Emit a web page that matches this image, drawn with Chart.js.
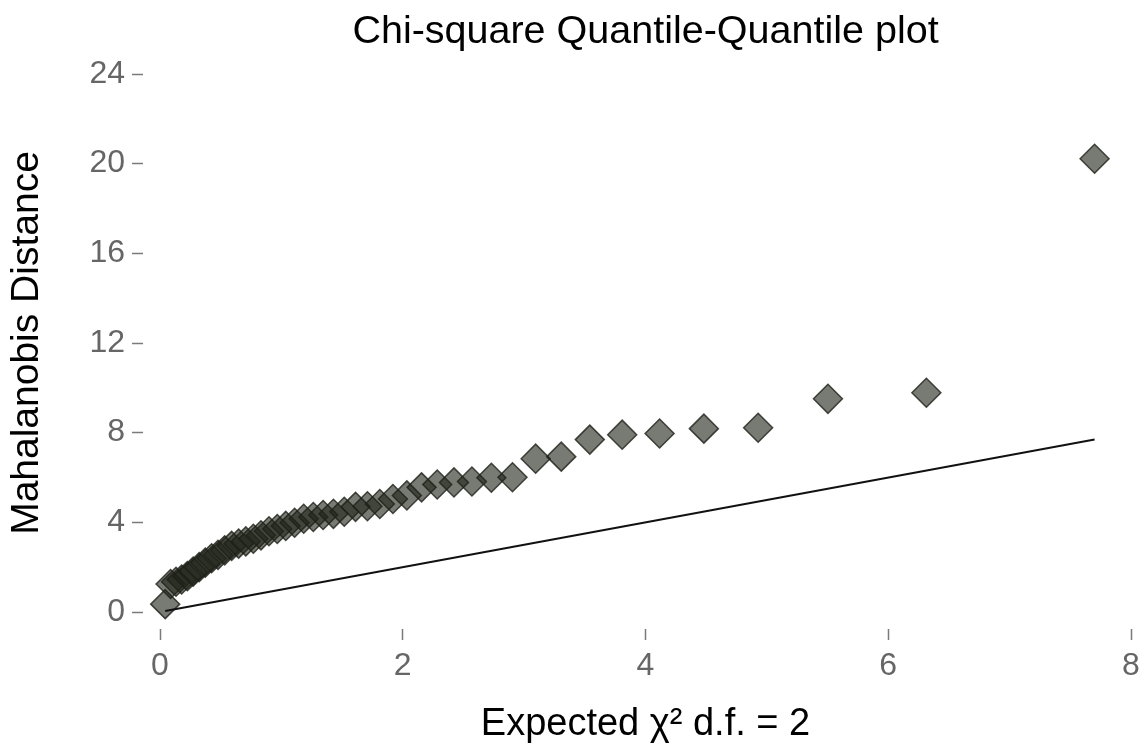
<!DOCTYPE html>
<html lang="en">
<head>
<meta charset="UTF-8">
<title>Chi-square Quantile-Quantile plot</title>
<script src="https://cdn.jsdelivr.net/npm/chart.js"></script>
<style>
  body { margin: 0; background: #fff; }
  #wrap { width: 1147px; height: 746px; }
</style>
</head>
<body>
<div id="wrap"><canvas id="qq"></canvas></div>
<script>
// expected chi-square quantiles (df = 2), ascending
const expected = [0.043, 0.087, 0.132, 0.178, 0.225, 0.273, 0.323, 0.373, 0.425, 0.478,
  0.533, 0.590, 0.648, 0.707, 0.769, 0.832, 0.898, 0.966, 1.036, 1.109,
  1.184, 1.263, 1.344, 1.429, 1.518, 1.611, 1.709, 1.811, 1.919, 2.034,
  2.155, 2.284, 2.422, 2.570, 2.730, 2.904, 3.095, 3.306, 3.541, 3.808,
  4.116, 4.481, 4.928, 5.503, 6.314, 7.700];
// sorted Mahalanobis distances
const mahalanobis = [0.35, 1.25, 1.35, 1.45, 1.6, 1.8, 2.0, 2.2, 2.4, 2.55,
  2.75, 2.95, 3.05, 3.15, 3.27, 3.42, 3.6, 3.7, 3.84, 3.98,
  4.16, 4.24, 4.33, 4.38, 4.47, 4.69, 4.72, 4.82, 5.04, 5.2,
  5.56, 5.69, 5.78, 5.82, 5.99, 6.01, 6.84, 6.93, 7.69, 7.91,
  7.96, 8.18, 8.22, 9.51, 9.78, 20.22];
const xTicks = [0, 2, 4, 6, 8];
const yTicks = [0, 4, 8, 12, 16, 20, 24];

const FONT = "'Liberation Sans', Arial, Helvetica, sans-serif";

const points = expected.map((x, i) => ({x: x, y: mahalanobis[i]}));
const lo = expected[0], hi = expected[expected.length - 1];
const refLine = [{x: lo, y: lo}, {x: hi, y: hi}];

// short tick marks set apart from the plot area
function tickGrid(dash) {
  return {
    drawOnChartArea: false,
    drawTicks: true,
    tickLength: 28,
    tickColor: '#7a7a7a',
    tickWidth: 1.5,
    tickBorderDash: dash
  };
}

new Chart(document.getElementById('qq'), {
  type: 'scatter',
  data: {
    datasets: [
      {
        type: 'line',
        data: refLine,
        borderColor: '#111',
        borderWidth: 2,
        pointRadius: 0,
        fill: false,
        clip: false,
        order: 0
      },
      {
        data: points,
        pointStyle: 'rectRot',
        pointRadius: 14.5,
        backgroundColor: 'rgba(30,33,24,0.6)',
        borderColor: 'rgba(30,33,24,0.8)',
        borderWidth: 1.5,
        clip: false,
        order: 1
      }
    ]
  },
  options: {
    responsive: true,
    maintainAspectRatio: false,
    animation: false,
    layout: { padding: { left: 0, right: 14, top: 0, bottom: 0 } },
    plugins: {
      legend: { display: false },
      tooltip: { enabled: false },
      title: {
        display: true,
        fullSize: false,
        text: 'Chi-square Quantile-Quantile plot',
        color: '#000',
        font: { family: FONT, size: 39.5, weight: 'normal', lineHeight: 1 },
        padding: { top: 12, bottom: 22.5 }
      }
    },
    scales: {
      x: {
        type: 'linear',
        min: 0,
        max: 8,
        afterBuildTicks: s => { s.ticks = xTicks.map(v => ({value: v})); },
        afterFit: s => { s.height = 134; },
        grid: tickGrid([0, 17, 11, 100]),
        border: { display: false },
        ticks: { color: '#666', padding: 7, font: { family: FONT, size: 32 } },
        title: {
          display: true,
          text: 'Expected \u03c7\u00b2 d.f. = 2',
          color: '#000',
          font: { family: FONT, size: 38, lineHeight: 1 },
          padding: { top: 2, bottom: 2 }
        }
      },
      y: {
        type: 'linear',
        min: 0,
        max: 24,
        afterBuildTicks: s => { s.ticks = yTicks.map(v => ({value: v})); },
        afterFit: s => { s.width = 160; },
        grid: tickGrid([11, 100]),
        border: { display: false },
        ticks: { color: '#666', padding: 7, font: { family: FONT, size: 32 } },
        title: {
          display: true,
          text: 'Mahalanobis Distance',
          color: '#000',
          font: { family: FONT, size: 39, lineHeight: 1 },
          padding: { top: 8, bottom: 8 }
        }
      }
    }
  }
});
</script>
</body>
</html>
